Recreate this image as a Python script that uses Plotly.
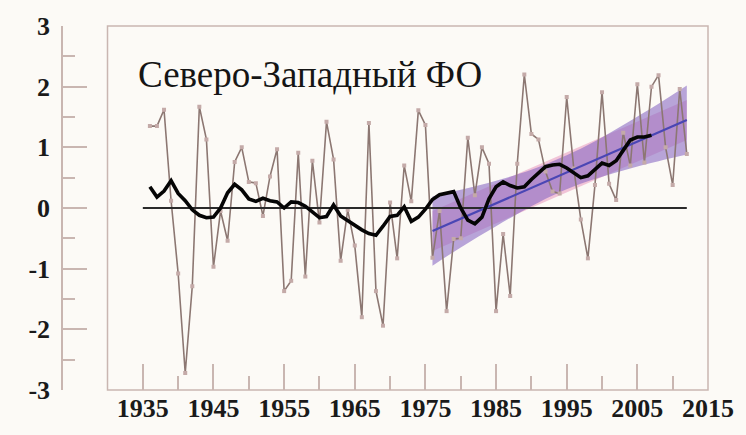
import plotly.graph_objects as go

# ---- data ----
years = list(range(1936, 2013))
anomaly = [1.35, 1.35, 1.62, 0.12, -1.08, -2.72, -1.29, 1.67, 1.13, -0.97,
           -0.05, -0.54, 0.76, 1.00, 0.43, 0.41, -0.13, 0.52, 0.97, -1.37,
           -1.20, 0.91, -1.13, 0.78, -0.24, 1.42, 0.80, -0.87, -0.03, -0.62,
           -1.80, 1.40, -1.37, -1.94, 0.09, -0.83, 0.70, 0.11, 1.61, 1.37,
           -0.82, -0.05, -1.70, -0.51, -0.50, 1.16, 0.21, 1.00, 0.73, -1.70,
           -0.43, -1.45, 0.73, 2.20, 1.22, 1.13, 0.60, 0.27, 0.24, 1.83,
           0.65, -0.19, -0.83, 0.38, 1.91, 0.40, 0.13, 1.24, 0.70, 2.04,
           0.75, 2.00, 2.19, 1.00, 0.38, 1.96, 0.89]

smooth_years = list(range(1936, 2008))
smooth = [0.35, 0.18, 0.28, 0.45, 0.24, 0.12, -0.03, -0.12, -0.16, -0.15,
          0.00, 0.25, 0.39, 0.30, 0.15, 0.11, 0.16, 0.12, 0.10, 0.00,
          0.10, 0.09, 0.03, -0.06, -0.16, -0.14, 0.05, -0.13, -0.21, -0.29,
          -0.36, -0.42, -0.45, -0.30, -0.14, -0.12, 0.02, -0.22, -0.15, -0.02,
          0.14, 0.22, 0.25, 0.27, 0.00, -0.20, -0.26, -0.15, 0.15, 0.35,
          0.43, 0.37, 0.33, 0.35, 0.47, 0.58, 0.68, 0.71, 0.72, 0.66,
          0.58, 0.50, 0.53, 0.63, 0.74, 0.70, 0.78, 0.95, 1.12, 1.17,
          1.17, 1.20]

trend_years = [1976, 2012]
trend = [-0.38, 1.45]

pink_years = [1976, 2012]
pink_upper = [-0.05, 1.78]
pink_lower = [-0.71, 1.12]

band_years = [1976, 1980, 1985, 1990, 1994, 1998, 2003, 2008, 2012]
band_upper = [0.19, 0.30, 0.45, 0.63, 0.82, 1.04, 1.37, 1.72, 2.02]
band_lower = [-0.95, -0.65, -0.30, 0.03, 0.26, 0.44, 0.62, 0.77, 0.88]

zero_years = [1935, 2012]
zero_vals = [0, 0]

y_ticks = [-3, -2, -1, 0, 1, 2, 3]
y_labels = ["-3", "-2", "-1", "0", "1", "2", "3"]
y_minor = [-2.5, -1.5, -0.5, 0.5, 1.5, 2.5]
x_ticks = [1935, 1945, 1955, 1965, 1975, 1985, 1995, 2005, 2015]
x_minor = [1940, 1950, 1960, 1970, 1980, 1990, 2000, 2010]
title_text = "Северо-Западный ФО"

axis_col = "#c9b6b1"
bg = "#fcfaf6"
serif = "Liberation Serif"

fig = go.Figure()

# pink band
fig.add_trace(go.Scatter(x=pink_years, y=pink_upper, mode="lines",
                         line=dict(width=0), hoverinfo="skip", showlegend=False))
fig.add_trace(go.Scatter(x=pink_years, y=pink_lower, mode="lines",
                         line=dict(width=0), fill="tonexty",
                         fillcolor="rgba(240,190,212,0.9)",
                         hoverinfo="skip", showlegend=False))
# purple band
fig.add_trace(go.Scatter(x=band_years, y=band_upper, mode="lines",
                         line=dict(width=0, shape="spline"), hoverinfo="skip", showlegend=False))
fig.add_trace(go.Scatter(x=band_years, y=band_lower, mode="lines",
                         line=dict(width=0, shape="spline"), fill="tonexty",
                         fillcolor="rgba(134,102,194,0.58)",
                         hoverinfo="skip", showlegend=False))

# annual anomalies
fig.add_trace(go.Scatter(x=years, y=anomaly, mode="lines+markers",
                         line=dict(color="#8c7772", width=1.6),
                         marker=dict(symbol="square", size=4, color="#c4aaa8",
                                     line=dict(width=0)),
                         showlegend=False))

# zero line
fig.add_trace(go.Scatter(x=zero_years, y=zero_vals, mode="lines",
                         line=dict(color="#2a2a2a", width=2), showlegend=False))

# linear trend
fig.add_trace(go.Scatter(x=trend_years, y=trend, mode="lines",
                         line=dict(color="#4a46b4", width=2.2), showlegend=False))

# smoothed curve
fig.add_trace(go.Scatter(x=smooth_years, y=smooth, mode="lines",
                         line=dict(color="#050505", width=3.6), showlegend=False))

W, H = 746, 435
ml, mr, mt, mb = 62, 31, 24, 39
plot_w = W - ml - mr
x_start = (108 - ml) / plot_w

fig.update_layout(
    width=W, height=H,
    margin=dict(l=ml, r=mr, t=mt, b=mb),
    paper_bgcolor=bg, plot_bgcolor=bg,
    showlegend=False,
    xaxis=dict(
        domain=[x_start, 1], range=[1930, 2015],
        tickmode="array", tickvals=x_ticks, ticktext=[str(v) for v in x_ticks],
        ticks="inside", ticklen=26, tickwidth=1.5, tickcolor=axis_col,
        minor=dict(tickmode="array", tickvals=x_minor, ticks="inside",
                   ticklen=14, tickwidth=1.5, tickcolor=axis_col, showgrid=False),
        showgrid=False, zeroline=False, showline=False,
        tickfont=dict(family=serif, size=26, color="#1a1a1a", weight="bold"),
    ),
    yaxis=dict(
        range=[-3, 3], anchor="free", position=0,
        tickmode="array", tickvals=y_ticks, ticktext=y_labels,
        ticks="inside", ticklen=24, tickwidth=1.5, tickcolor=axis_col,
        minor=dict(tickmode="array", tickvals=y_minor, ticks="inside",
                   ticklen=12, tickwidth=1.5, tickcolor=axis_col, showgrid=False),
        showgrid=False, zeroline=False,
        showline=True, linecolor=axis_col, linewidth=1.5,
        ticklabelstandoff=6,
        tickfont=dict(family=serif, size=26, color="#1a1a1a", weight="bold"),
    ),
    shapes=[dict(type="rect", xref="x domain", yref="y domain",
                 x0=0, x1=1, y0=0, y1=1,
                 line=dict(color=axis_col, width=1.5), layer="below")],
    annotations=[dict(text=title_text, x=1934.1, y=2.2, xref="x", yref="y",
                      xanchor="left", yanchor="middle", showarrow=False,
                      font=dict(family=serif, size=37, color="#151515"))],
)

fig.write_html("out.html", config={"displayModeBar": False},
               post_script="document.body.style.margin='0';document.body.style.overflow='hidden';")
